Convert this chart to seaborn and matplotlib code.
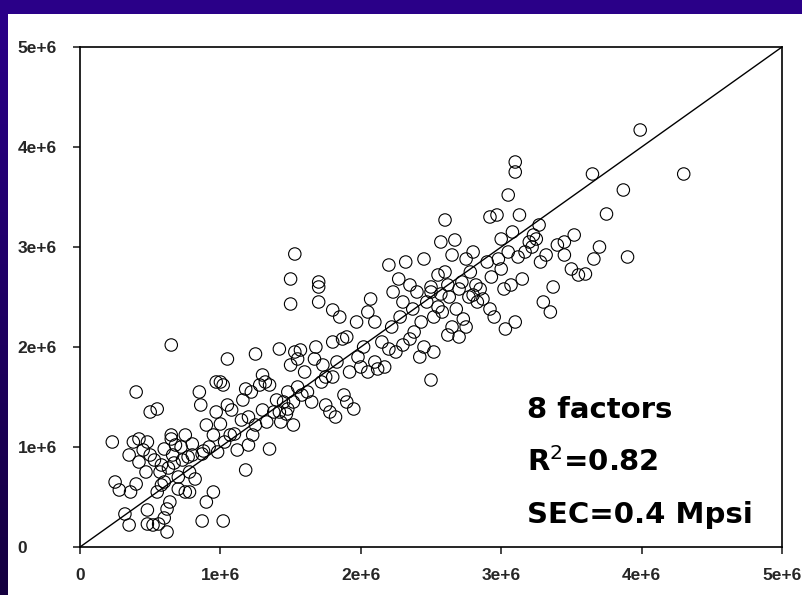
import numpy as np
import pandas as pd
import matplotlib
matplotlib.use("Agg")
import matplotlib.pyplot as plt
import seaborn as sns

# measured vs predicted values (units of 1e6 psi)
x_vals = [
    0.23,0.25,0.28,0.32,0.35,0.35,0.36,0.38,0.40,0.40,0.42,0.42,0.45,0.47,0.48,0.48,0.48,0.50,0.50,0.52,0.53,0.55,0.55,0.56,0.57,
    0.58,0.58,0.60,0.60,0.60,0.62,0.62,0.63,0.64,0.65,0.65,0.65,0.66,0.67,0.68,0.70,0.70,0.72,0.73,0.75,0.75,0.77,0.78,0.78,0.80,0.80,0.82,
    0.85,0.86,0.87,0.87,0.88,0.90,0.90,0.92,0.95,0.95,0.97,0.97,0.98,1.00,1.00,1.02,1.02,1.03,1.05,1.05,1.07,1.08,1.10,1.12,1.15,1.16,1.18,1.18,1.20,1.20,1.22,
    1.23,1.25,1.25,1.28,1.30,1.30,1.32,1.33,1.35,1.35,1.38,1.40,1.42,1.42,1.43,1.45,1.47,1.48,1.48,1.50,1.50,1.50,1.52,1.52,1.53,1.53,1.55,1.55,
    1.57,1.58,1.60,1.62,1.65,1.67,1.68,1.70,1.70,1.70,1.72,1.73,1.75,1.75,1.78,1.80,1.80,1.80,1.82,1.83,1.85,1.87,1.88,1.90,1.90,1.92,1.95,1.97,1.98,2.00,
    2.02,2.05,2.05,2.07,2.10,2.10,2.12,2.15,2.17,2.20,2.20,2.22,2.23,2.25,2.27,2.28,2.30,2.30,2.32,2.35,2.35,2.37,2.38,2.40,2.42,2.43,2.45,2.45,2.47,2.50,2.50,2.50,2.52,
    2.52,2.55,2.55,2.57,2.57,2.58,2.60,2.60,2.62,2.62,2.63,2.65,2.65,2.67,2.68,2.70,2.70,2.72,2.73,2.75,2.75,2.77,2.78,2.80,2.80,2.82,2.83,2.85,2.87,2.90,2.92,2.92,2.93,2.95,2.97,2.98,
    3.00,3.00,3.02,3.03,3.05,3.05,3.07,3.08,3.10,3.10,3.10,3.12,3.13,3.15,3.17,3.20,3.22,3.23,3.25,3.27,3.28,3.30,3.32,3.35,3.37,3.40,3.45,3.45,3.50,3.52,3.55,
    3.60,3.65,3.66,3.70,3.75,3.87,3.90,3.99,4.30,
]
y_vals = [
    1.05,0.65,0.57,0.33,0.22,0.92,0.55,1.05,1.55,0.63,0.85,1.08,0.97,0.75,1.05,0.37,0.23,1.35,0.92,0.22,0.87,1.38,0.55,0.23,0.75,
    0.62,0.82,0.65,0.98,0.29,0.15,0.38,0.79,0.45,1.12,1.08,2.02,0.92,0.84,1.02,0.58,0.70,1.00,0.87,1.12,0.55,0.90,0.75,0.55,1.03,0.92,0.68,
    1.55,1.42,0.26,0.93,0.96,0.45,1.22,1.00,0.55,1.12,1.65,1.35,0.95,1.65,1.23,0.26,1.62,1.05,1.88,1.42,1.12,1.37,1.13,0.97,1.27,1.47,0.77,1.58,1.30,1.02,1.55,
    1.12,1.93,1.22,1.62,1.37,1.72,1.65,1.25,1.62,0.98,1.35,1.47,1.35,1.98,1.25,1.45,1.33,1.55,1.38,1.82,2.43,2.68,1.45,1.22,1.95,2.93,1.88,1.60,
    1.97,1.52,1.75,1.55,1.45,1.88,2.00,2.65,2.60,2.45,1.65,1.82,1.70,1.42,1.35,2.37,2.05,1.70,1.30,1.85,2.30,2.08,1.52,2.10,1.45,1.75,1.38,2.25,1.90,1.80,
    2.00,2.35,1.75,2.48,2.25,1.85,1.78,2.05,1.80,1.98,2.82,2.20,2.55,1.95,2.68,2.30,2.02,2.45,2.85,2.08,2.62,2.38,2.15,2.55,1.90,2.25,2.88,2.00,2.45,1.67,2.60,2.55,1.95,
    2.30,2.40,2.72,3.05,2.53,2.35,2.75,3.27,2.12,2.62,2.50,2.20,2.92,3.07,2.38,2.10,2.58,2.65,2.28,2.88,2.20,2.50,2.75,2.95,2.52,2.62,2.45,2.58,2.48,2.85,3.30,2.38,2.70,2.30,3.32,2.88,
    3.08,2.78,2.58,2.18,3.52,2.95,2.62,3.15,3.85,3.75,2.25,2.90,3.32,2.68,2.95,3.05,3.00,3.12,3.08,3.22,2.85,2.45,2.92,2.35,2.60,3.02,2.92,3.05,2.78,3.12,2.72,
    2.73,3.73,2.88,3.00,3.33,3.57,2.90,4.17,3.73,
]
tick_vals = [0, 1e6, 2e6, 3e6, 4e6, 5e6]
tick_labels = ["0", "1e+6", "2e+6", "3e+6", "4e+6", "5e+6"]
line_ends = [0, 5e6]
annot_lines = ["8 factors", "R$^2$=0.82", "SEC=0.4 Mpsi"]

df = pd.DataFrame({"x": np.array(x_vals) * 1e6, "y": np.array(y_vals) * 1e6})
ref = pd.DataFrame({"x": line_ends, "y": line_ends})

sns.set_style("white")
plt.rcParams["font.family"] = ["Liberation Sans", "DejaVu Sans"]

W, H = 803, 595
fig = plt.figure(figsize=(W / 100, H / 100), dpi=100, facecolor="white")

# purple frame (top band and left band with gradient)
fig.patches.append(matplotlib.patches.Rectangle((0, 1 - 14 / H), 1, 14 / H, transform=fig.transFigure,
                                                facecolor="#2a0088", edgecolor="none", zorder=0))
left_ax = fig.add_axes([0, 0, 8 / W, 1 - 14 / H])
left_ax.imshow(np.linspace(0, 1, 100).reshape(-1, 1), cmap=matplotlib.colors.LinearSegmentedColormap.from_list(
    "l", ["#2a0088", "#150040"]), aspect="auto", extent=[0, 1, 0, 1], origin="upper")
left_ax.axis("off")

ax = fig.add_axes([80 / W, (H - 547) / H, (782 - 80) / W, 500 / H])
sns.lineplot(data=ref, x="x", y="y", ax=ax, color="black", linewidth=1.0)
sns.scatterplot(data=df, x="x", y="y", ax=ax, s=80, facecolors="none",
                edgecolor="black", linewidth=0.8, marker="o", legend=False)

ax.set_xlim(0, 5e6)
ax.set_ylim(0, 5e6)
ax.set_xticks(tick_vals)
ax.set_xticklabels(tick_labels, fontsize=12.5, fontweight="bold")
ax.set_yticks(tick_vals)
ax.set_yticklabels(tick_labels, fontsize=12.5, fontweight="bold", ha="left")
ax.tick_params(axis="x", direction="out", length=5, width=1.2, pad=10, bottom=True, top=False)
ax.tick_params(axis="y", direction="out", length=5, width=1.2, pad=40, left=True, right=False)
ax.set_xlabel("")
ax.set_ylabel("")
for sp in ax.spines.values():
    sp.set_visible(True)
    sp.set_color("black")
    sp.set_linewidth(1.2)

ys = [0.274, 0.17, 0.064]
for t, yy in zip(annot_lines, ys):
    ax.text(0.637, yy, t, transform=ax.transAxes, fontsize=21, fontweight="bold",
            family=["DejaVu Sans"], ha="left", va="center", color="black")

fig.savefig("out.png", dpi=100, facecolor="white")
